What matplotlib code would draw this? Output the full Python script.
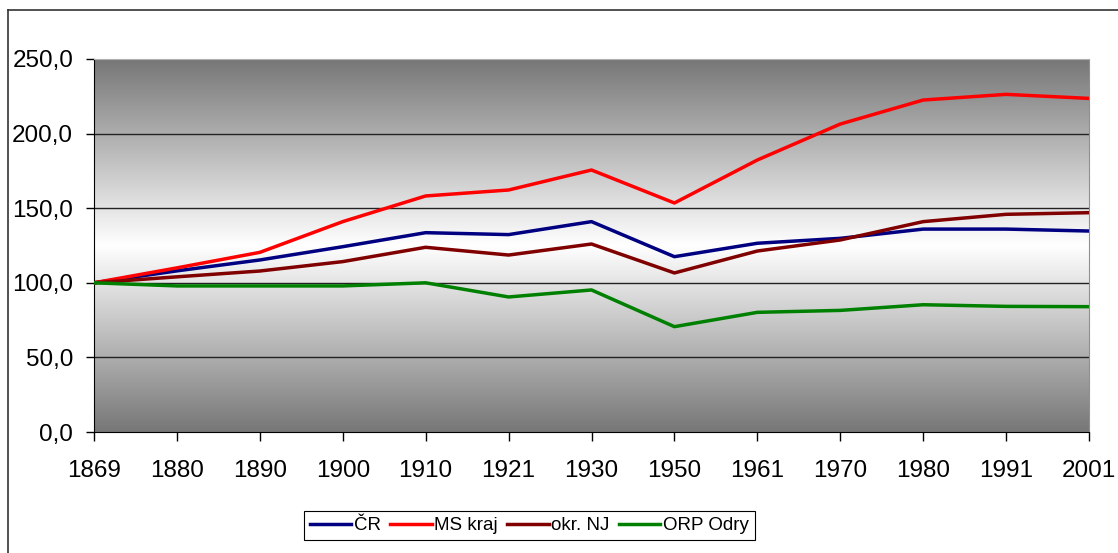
import numpy as np
import matplotlib
matplotlib.use('Agg')
import matplotlib.pyplot as plt
from matplotlib.lines import Line2D
from matplotlib.ticker import FuncFormatter

plt.rcParams['font.family'] = ['Liberation Sans', 'DejaVu Sans']

years = ['1869', '1880', '1890', '1900', '1910', '1921', '1930', '1950', '1961', '1970', '1980', '1991', '2001']

cr = [100, 108, 115.3, 124.2, 133.6, 132.3, 141, 117.5, 126.5, 129.8, 136, 136, 134.7]
ms_kraj = [100, 110, 120.4, 141, 158.2, 162.2, 175.6, 153.5, 182.3, 206.4, 222.5, 226.3, 223.6]
okr_nj = [100, 104, 107.9, 114.2, 123.8, 118.6, 126, 106.6, 121.3, 128.7, 141, 145.9, 147]
orp_odry = [100, 97.9, 97.9, 97.9, 100, 90.5, 95.2, 70.6, 80.2, 81.5, 85.3, 84.2, 84]

series_names = ['ČR', 'MS kraj', 'okr. NJ', 'ORP Odry']
series_colors = ['#000080', '#ff0000', '#800000', '#008000']

fig = plt.figure(figsize=(11.18, 5.53), dpi=100)
ax = fig.add_axes([94/1118, 1-432/553, (1089-94)/1118, (432-59)/553])

x = np.arange(len(years))

# gray - white - gray gradient behind the plot
grad = np.abs(np.linspace(-1, 1, 256))
shade = (119 + 136 * (1 - grad)) / 255.0
img = np.dstack([shade, shade, shade]).reshape(256, 1, 3)
ax.imshow(img, extent=[0, len(years)-1, 0, 250], aspect='auto', zorder=0, origin='lower')

for v in [50, 100, 150, 200]:
    ax.axhline(v, color='#222222', lw=1, zorder=1)

for vals, name, col in zip([cr, ms_kraj, okr_nj, orp_odry], series_names, series_colors):
    ax.plot(x, vals, color=col, lw=2.5, label=name, zorder=3, solid_joinstyle='round')

ax.set_xlim(0, len(years)-1)
ax.set_ylim(0, 250)
ax.set_xticks(x)
ax.set_xticklabels(years)
ax.set_yticks([0, 50, 100, 150, 200, 250])
ax.yaxis.set_major_formatter(FuncFormatter(lambda v, p: f"{v:.1f}".replace('.', ',')))
ax.tick_params(axis='y', direction='out', length=6, width=1, pad=9, labelsize=17.5)
ax.tick_params(axis='x', direction='out', length=6.5, width=1, pad=14, labelsize=17.5)

ax.spines['left'].set_color('black')
ax.spines['bottom'].set_color('black')
ax.spines['top'].set_color('#b0b0b0')
ax.spines['right'].set_color('#909090')

leg = fig.legend(loc='center', bbox_to_anchor=(0.4736, 0.0497), bbox_transform=fig.transFigure,
                 ncol=4, fontsize=13.5, handlelength=2.2, handletextpad=0.15, columnspacing=0.5,
                 fancybox=False, edgecolor='black', framealpha=1, borderpad=0.3)
leg.get_frame().set_linewidth(0.8)

# outer chart frame (only left and top edges visible)
fig.add_artist(Line2D([8/1118, 8/1118], [0, 1-10/553], transform=fig.transFigure, color='#333333', lw=1.2))
fig.add_artist(Line2D([8/1118, 1], [1-10/553, 1-10/553], transform=fig.transFigure, color='#333333', lw=1.2))

fig.savefig('out.png', dpi=100)
